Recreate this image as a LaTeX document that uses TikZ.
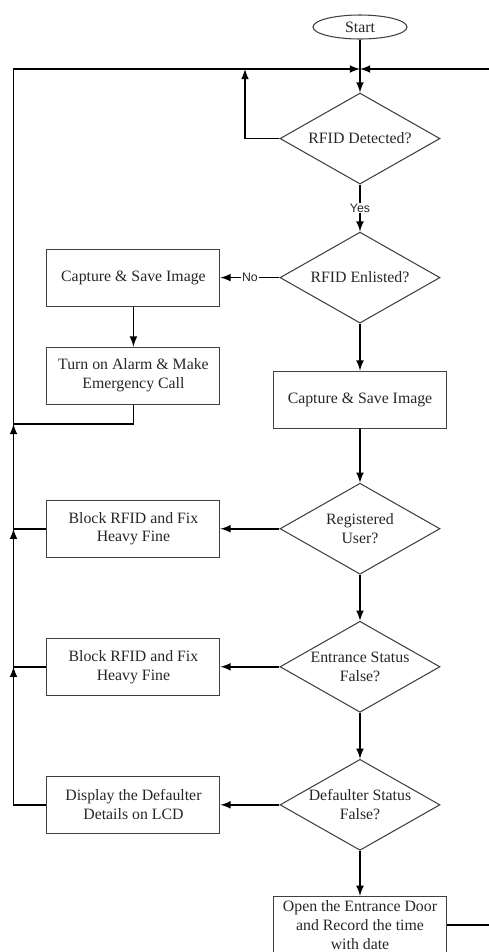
\documentclass[tikz,border=0pt]{standalone}
\usepackage{fontspec}
\setmainfont{Liberation Serif}
\newfontfamily\lblfont{Liberation Sans}
\usetikzlibrary{positioning,shapes.geometric}

\begin{document}
\begin{tikzpicture}[node distance=0.94cm and 1.18cm,
      startstop/.style={ellipse,draw=black!75,line width=0.6pt,text=black!85,minimum width=1.88cm,minimum height=0.48cm,inner sep=0pt},
      process/.style={rectangle,draw=black!75,line width=0.6pt,text=black!85,align=center,minimum width=3.46cm,minimum height=1.14cm,inner sep=0pt},
      decision/.style={diamond,draw=black!75,line width=0.6pt,text=black!85,align=center,aspect=1.76,minimum width=3.2cm,minimum height=1.82cm,inner sep=-1pt},
      lbl/.style={fill=white,inner sep=0.5pt,font=\lblfont\fontsize{7}{8}\selectfont,text=black!85},
      arr/.style={line width=1pt,-latex}
      ]
      \fontsize{9}{10.8}\selectfont
      \useasboundingbox (-7.2,0.54) rectangle (2.58,-18.5);
      \node (start) [startstop] at (0,0) {Start};
      \node (detect) [decision,below=1.06cm of start] {RFID Detected?};
      \node (enlisted) [decision,below=of detect] {RFID Enlisted?};
      \node (cap1) [process,left=of enlisted] {Capture \& Save Image};
      \node (alarm) [process,below=0.8cm of cap1] {Turn on Alarm \& Make\\Emergency Call};
      \node (cap2) [process,below=of enlisted] {Capture \& Save Image};
      \node (reg) [decision,below=1.08cm of cap2] {Registered\\User?};
      \node (fine1) [process,left=of reg] {Block RFID and Fix\\Heavy Fine};
      \node (entr) [decision,below=0.92cm of reg] {Entrance Status\\False?};
      \node (fine2) [process,left=of entr] {Block RFID and Fix\\Heavy Fine};
      \node (dflt) [decision,below=0.92cm of entr] {Defaulter Status\\False?};
      \node (disp) [process,left=of dflt] {Display the Defaulter\\Details on LCD};
      \node (open) [process,below=0.9cm of dflt] {Open the Entrance Door\\and Record the time\\with date};
      % loop corners
      \coordinate (join) at (0,-0.84);
      \coordinate (lp) at (-2.3,-0.84);
      \coordinate (tl) at (-6.93,-0.84);
      \coordinate (tr) at (2.7,-0.84);
      \coordinate (ac) at (-6.93,-7.94);
      \draw[arr] (start) -- (detect);
      \draw[arr] (detect.west) -| (lp);
      \draw[arr] (detect) -- node[lbl] {Yes} (enlisted);
      \draw[arr] (enlisted) -- node[lbl] {No} (cap1);
      \draw[arr] (cap1) -- (alarm);
      \draw[arr] (enlisted) -- (cap2);
      \draw[arr] (cap2) -- (reg);
      \draw[arr] (reg) -- (fine1);
      \draw[arr] (reg) -- (entr);
      \draw[arr] (entr) -- (fine2);
      \draw[arr] (entr) -- (dflt);
      \draw[arr] (dflt) -- (disp);
      \draw[arr] (dflt) -- (open);
      % return lines
      \draw[arr] (disp.west) -| (fine2.west -| tl);
      \draw[arr] (fine2.west) -| (fine1.west -| tl);
      \draw[arr] (fine1.west) -| (ac);
      \draw[arr] (alarm.south) |- (ac) -- (tl) -- (join);
      \draw[arr] (open.east) -| (tr) -- (join);
    \end{tikzpicture}
\end{document}
